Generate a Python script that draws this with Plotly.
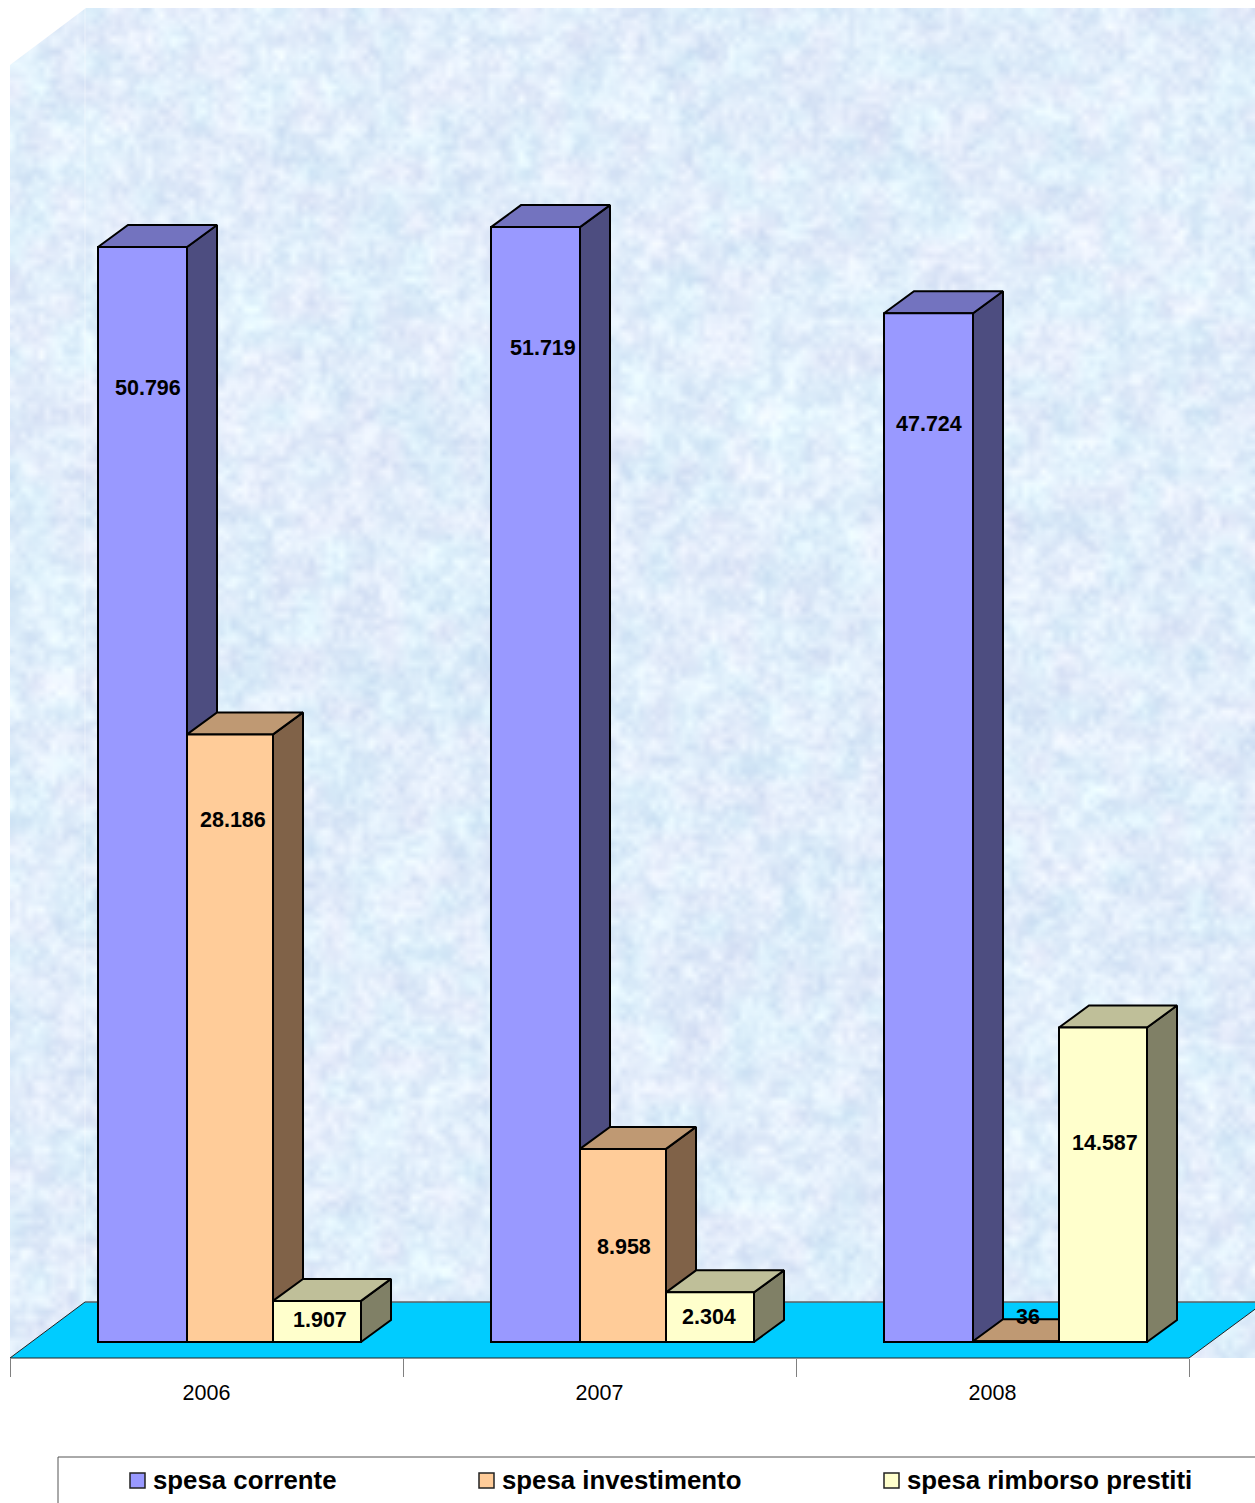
import base64, struct, zlib
import numpy as np
import plotly.graph_objects as go

# ---- data ----
years = ["2006", "2007", "2008"]
spesa_corrente = [50796, 51719, 47724]
spesa_investimento = [28186, 8958, 36]
spesa_rimborso_prestiti = [1907, 2304, 14587]
series_names = ["spesa corrente", "spesa investimento", "spesa rimborso prestiti"]
series_values = [spesa_corrente, spesa_investimento, spesa_rimborso_prestiti]

# ---- layout constants (pixels of the 1255x1503 page) ----
W, H = 1255, 1503
AX_L, AX_R, AX_Y = 10, 1189, 1358
BASE_Y = 1342
PX_PER_UNIT = 1095 / 50796
GROUP = (AX_R - AX_L) / 3
BAR_START = [98, 187, 273]
BAR_W = [89, 86, 88]
DX, DY = 30, 22
FRONT = ["#9999FF", "#FFCC99", "#FFFFCC"]
TOP = ["#7373BF", "#BF9973", "#BFBF99"]
SIDE = ["#4D4D80", "#806248", "#808066"]
FONT = "Liberation Sans, Arial, sans-serif"
LABEL_PX = [
    [(148, 388), (543, 348), (929, 424)],
    [(233, 820), (624, 1247), (1028, 1317)],
    [(320, 1320), (709, 1317), (1105, 1143)],
]
LEGEND_PX = [(130, 151), (479, 500), (884, 905)]


def px2x(p):
    return (p - AX_L) / GROUP - 0.5


def py2y(p):
    return (BASE_Y - p) / PX_PER_UNIT


def paper(p):
    return (p[0] / W, 1 - p[1] / H)


def poly(points, **kw):
    pts = [paper(p) for p in points]
    d = "M" + "L".join(f"{a:.5f},{b:.5f}" for a, b in pts) + "Z"
    return dict(type="path", path=d, xref="paper", yref="paper", layer="below", **kw)


# ---- paper-like wall texture (deterministic, decoration only) ----
def octave(h, w, cell):
    yy, xx = np.mgrid[0:h, 0:w]
    fx, fy = xx / cell, yy / cell
    ix, iy = np.floor(fx), np.floor(fy)
    tx, ty = fx - ix, fy - iy
    tx, ty = tx * tx * (3 - 2 * tx), ty * ty * (3 - 2 * ty)

    def hsh(i, j):
        s = np.sin(i * 12.9898 + j * 78.233 + cell) * 43758.5453
        return s - np.floor(s)

    a = hsh(ix, iy) * (1 - tx) + hsh(ix + 1, iy) * tx
    b = hsh(ix, iy + 1) * (1 - tx) + hsh(ix + 1, iy + 1) * tx
    return a * (1 - ty) + b * ty


def texture():
    w, h = 415, 450
    n = 0.4 * octave(h, w, 2) + 0.42 * octave(h, w, 5) + 0.18 * octave(h, w, 19)
    n = (n - n.mean()) / n.std()
    p = octave(h, w, 9)
    r = 225 + 6 * n + 10 * (p - 0.5)
    g = 238 + 5 * n - 3 * (p - 0.5)
    b = 251 + 2.5 * n
    img = np.clip(np.dstack([r, g, b]), 0, 255).astype(np.uint8)
    raw = b"".join(b"\x00" + img[i].tobytes() for i in range(h))

    def chunk(t, d):
        c = struct.pack(">I", len(d)) + t + d
        return c + struct.pack(">I", zlib.crc32(t + d) & 0xFFFFFFFF)

    png = (b"\x89PNG\r\n\x1a\n" + chunk(b"IHDR", struct.pack(">IIBBBBB", w, h, 8, 2, 0, 0, 0))
           + chunk(b"IDAT", zlib.compress(raw, 9)) + chunk(b"IEND", b""))
    return "data:image/png;base64," + base64.b64encode(png).decode()


fig = go.Figure()
x_pos = list(range(len(years)))
edge = dict(color="black", width=2)
dx_u = DX / GROUP
dy_u = DY / PX_PER_UNIT

for k, (name, vals) in enumerate(zip(series_names, series_values)):
    off = (BAR_START[k] - (AX_L + GROUP / 2)) / GROUP
    wid = BAR_W[k] / GROUP
    for xi, v in zip(x_pos, vals):
        xl, xr = xi + off, xi + off + wid
        fig.add_trace(go.Scatter(
            x=[xr, xr + dx_u, xr + dx_u, xr, xr], y=[0, dy_u, v + dy_u, v, 0],
            mode="lines", fill="toself", fillcolor=SIDE[k], line=edge,
            hoverinfo="skip", showlegend=False, zorder=2 * k))
        fig.add_trace(go.Scatter(
            x=[xl, xl + dx_u, xr + dx_u, xr, xl], y=[v, v + dy_u, v + dy_u, v, v],
            mode="lines", fill="toself", fillcolor=TOP[k], line=edge,
            hoverinfo="skip", showlegend=False, zorder=2 * k))
    fig.add_trace(go.Bar(
        x=x_pos, y=vals, name=name, offset=off, width=wid,
        marker=dict(color=FRONT[k], line=edge), showlegend=False, zorder=2 * k + 1))

annotations = []
for k, vals in enumerate(series_values):
    for (px, py), v in zip(LABEL_PX[k], vals):
        label = f"{v:,}".replace(",", ".")
        annotations.append(dict(
            x=px2x(px), y=py2y(py), xref="x", yref="y", showarrow=False,
            text="<b>" + label + "</b>",
            font=dict(family=FONT, size=21.5, color="black")))

shapes = [
    poly([(10, 8), (86, 8), (10, 65)], fillcolor="white", line=dict(width=0)),
    dict(type="line", xref="paper", yref="paper", x0=85 / W, x1=85 / W, y0=1 - 8 / H, y1=1 - 1302 / H,
         line=dict(color="rgba(255,255,255,0.45)", width=1), layer="below"),
    poly([(10, AX_Y), (85, 1302), (1258, 1302), (1258, 1307), (AX_R, AX_Y)],
         fillcolor="#00CCFF", line=dict(color="#222222", width=1)),
    dict(type="line", xref="paper", yref="paper", x0=85 / W, x1=1, y0=1 - 1302 / H, y1=1 - 1302 / H,
         line=dict(color="#808080", width=1), layer="below"),
    dict(type="rect", xref="paper", yref="paper", x0=58 / W, x1=1.01, y0=1 - 1457 / H, y1=-0.01,
         line=dict(color="#555555", width=1), fillcolor="white", layer="below"),
]

for k, (sx, tx) in enumerate(LEGEND_PX):
    shapes.append(dict(type="rect", xref="paper", yref="paper",
                       x0=sx / W, x1=(sx + 15) / W, y0=1 - 1473 / H, y1=1 - 1488 / H,
                       fillcolor=FRONT[k], line=dict(color="#222222", width=1.5), layer="above"))
    annotations.append(dict(
        x=tx / W, y=1 - 1480 / H, xref="paper", yref="paper", xanchor="left", yanchor="middle",
        showarrow=False,
        text="<b>" + series_names[k] + "</b>", font=dict(family=FONT, size=25.8, color="black")))

fig.update_layout(
    width=W, height=H, margin=dict(l=0, r=0, t=0, b=0),
    paper_bgcolor="white", plot_bgcolor="rgba(0,0,0,0)", barmode="overlay", showlegend=False,
    xaxis=dict(
        domain=[AX_L / W, AX_R / W], range=[-0.5, 2.5], tickmode="array", tickvals=x_pos, ticktext=years,
        ticks="outside", ticklen=15, tickcolor="rgba(0,0,0,0)", showgrid=False, zeroline=False,
        showline=True, linecolor="#555555", linewidth=1,
        tickfont=dict(family=FONT, size=21.5, color="black"),
        minor=dict(tickmode="array", tickvals=[-0.5, 0.5, 1.5, 2.5], ticks="outside", ticklen=18,
                   tickcolor="#808080", tickwidth=1, showgrid=False),
    ),
    yaxis=dict(
        domain=[(H - AX_Y) / H, 1], range=[py2y(AX_Y), py2y(0)], visible=False, showgrid=False, zeroline=False,
    ),
    shapes=shapes, annotations=annotations,
    images=[dict(source=texture(), xref="paper", yref="paper", x=10 / W, y=1 - 8 / H,
                 sizex=1245 / W, sizey=1350 / H, xanchor="left", yanchor="top",
                 sizing="stretch", layer="below")],
)

fig.write_html("out.html", config=dict(displayModeBar=False),
               post_script="document.body.style.margin='0';document.documentElement.style.overflow='hidden';")
